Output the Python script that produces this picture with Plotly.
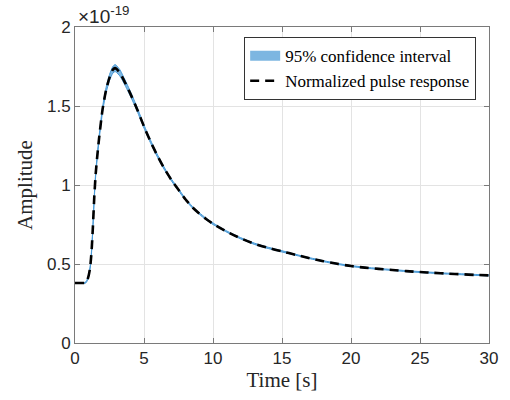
import plotly.graph_objects as go

# Data (amplitude in units of 1e-19)
time_s = [0, 0.5, 0.7, 0.8, 0.9, 1.0, 1.1, 1.2, 1.3, 1.4, 1.5, 1.6, 1.75, 2.0, 2.25,
          2.5, 2.75, 2.9, 3.0, 3.25, 3.5, 4.0, 4.5, 5.0, 5.5, 6.0, 6.5, 7.0, 7.5,
          8.0, 8.5, 9.0, 9.5, 10, 11, 12, 13, 14, 15, 16, 17, 18, 19, 20, 21, 22,
          23, 24, 25, 26, 27, 28, 29, 30]
pulse = [0.38, 0.38, 0.38, 0.385, 0.40, 0.43, 0.48, 0.58, 0.74, 0.93, 1.07, 1.17,
         1.30, 1.48, 1.60, 1.68, 1.73, 1.74, 1.735, 1.71, 1.67, 1.58, 1.48, 1.37,
         1.27, 1.18, 1.10, 1.03, 0.97, 0.91, 0.86, 0.82, 0.785, 0.755, 0.705, 0.663,
         0.628, 0.602, 0.58, 0.558, 0.537, 0.518, 0.501, 0.487, 0.477, 0.469, 0.462,
         0.455, 0.449, 0.444, 0.439, 0.435, 0.431, 0.428]
half_width = [0.003, 0.003, 0.003, 0.004, 0.005, 0.006, 0.007, 0.008, 0.009, 0.010,
              0.011, 0.012, 0.013, 0.015, 0.017, 0.019, 0.021, 0.022, 0.022, 0.020,
              0.018, 0.015, 0.012, 0.010, 0.009, 0.008, 0.007, 0.006, 0.006, 0.005,
              0.005, 0.005, 0.005, 0.005, 0.004, 0.004, 0.004, 0.004, 0.004, 0.003,
              0.003, 0.003, 0.003, 0.003, 0.003, 0.003, 0.003, 0.003, 0.003, 0.003,
              0.003, 0.003, 0.003, 0.003]
exponent = -19

lower = [p - h for p, h in zip(pulse, half_width)]
upper = [p + h for p, h in zip(pulse, half_width)]

band_line = "rgb(70,152,214)"
band_fill = "rgb(125,182,225)"
serif = "Liberation Serif, Times New Roman, serif"

fig = go.Figure()
fig.add_trace(go.Scatter(x=time_s, y=lower, mode="lines",
                         line=dict(color=band_line, width=1, shape="spline", smoothing=0.6),
                         showlegend=False, hoverinfo="skip"))
fig.add_trace(go.Scatter(x=time_s, y=upper, mode="lines", fill="tonexty",
                         fillcolor=band_fill, legendgroup="ci",
                         line=dict(color=band_line, width=1, shape="spline", smoothing=0.6),
                         showlegend=False, name="95% confidence interval"))
# legend entry for the band (filled patch look)
fig.add_trace(go.Scatter(x=[None], y=[None], mode="lines", legendgroup="ci",
                         line=dict(color=band_fill, width=15),
                         name="95% confidence interval"))
fig.add_trace(go.Scatter(x=time_s, y=pulse, mode="lines",
                         line=dict(color="black", width=2.6, dash="9px,6px",
                                   shape="spline", smoothing=0.6),
                         name="Normalized pulse response"))

axis_common = dict(
    showline=True, linecolor="#7a7a7a", linewidth=1, mirror="allticks",
    ticks="inside", ticklen=5, tickcolor="#7a7a7a",
    showgrid=True, gridcolor="#e3e3e3", gridwidth=1, zeroline=False,
    tickfont=dict(family="Liberation Sans, Arial", size=17, color="#262626"),
)

fig.update_xaxes(range=[0, 30], dtick=5, tick0=0,
                 title=dict(text="Time [s]", standoff=4,
                            font=dict(family=serif, size=21, color="#262626")),
                 **axis_common)
fig.update_yaxes(range=[0, 2], dtick=0.5, tick0=0,
                 title=dict(text="Amplitude", standoff=8,
                            font=dict(family=serif, size=21, color="#262626")),
                 **axis_common)

fig.add_annotation(x=0, y=1, xref="paper", yref="paper", xanchor="left",
                   yanchor="bottom", showarrow=False, xshift=1, yshift=-2,
                   text=f"×10<sup>{exponent}</sup>",
                   font=dict(family="Liberation Sans, Arial", size=19, color="#262626"))

fig.update_layout(
    width=510, height=400,
    margin=dict(l=75, r=19, t=27, b=57),
    paper_bgcolor="white", plot_bgcolor="white",
    legend=dict(x=0.969, y=0.968, xanchor="right", yanchor="top",
                traceorder="normal",
                bgcolor="white", bordercolor="#333333", borderwidth=1,
                font=dict(family=serif, size=17, color="black"),
                tracegroupgap=0, itemwidth=30),
)

fig.write_html("out.html")
